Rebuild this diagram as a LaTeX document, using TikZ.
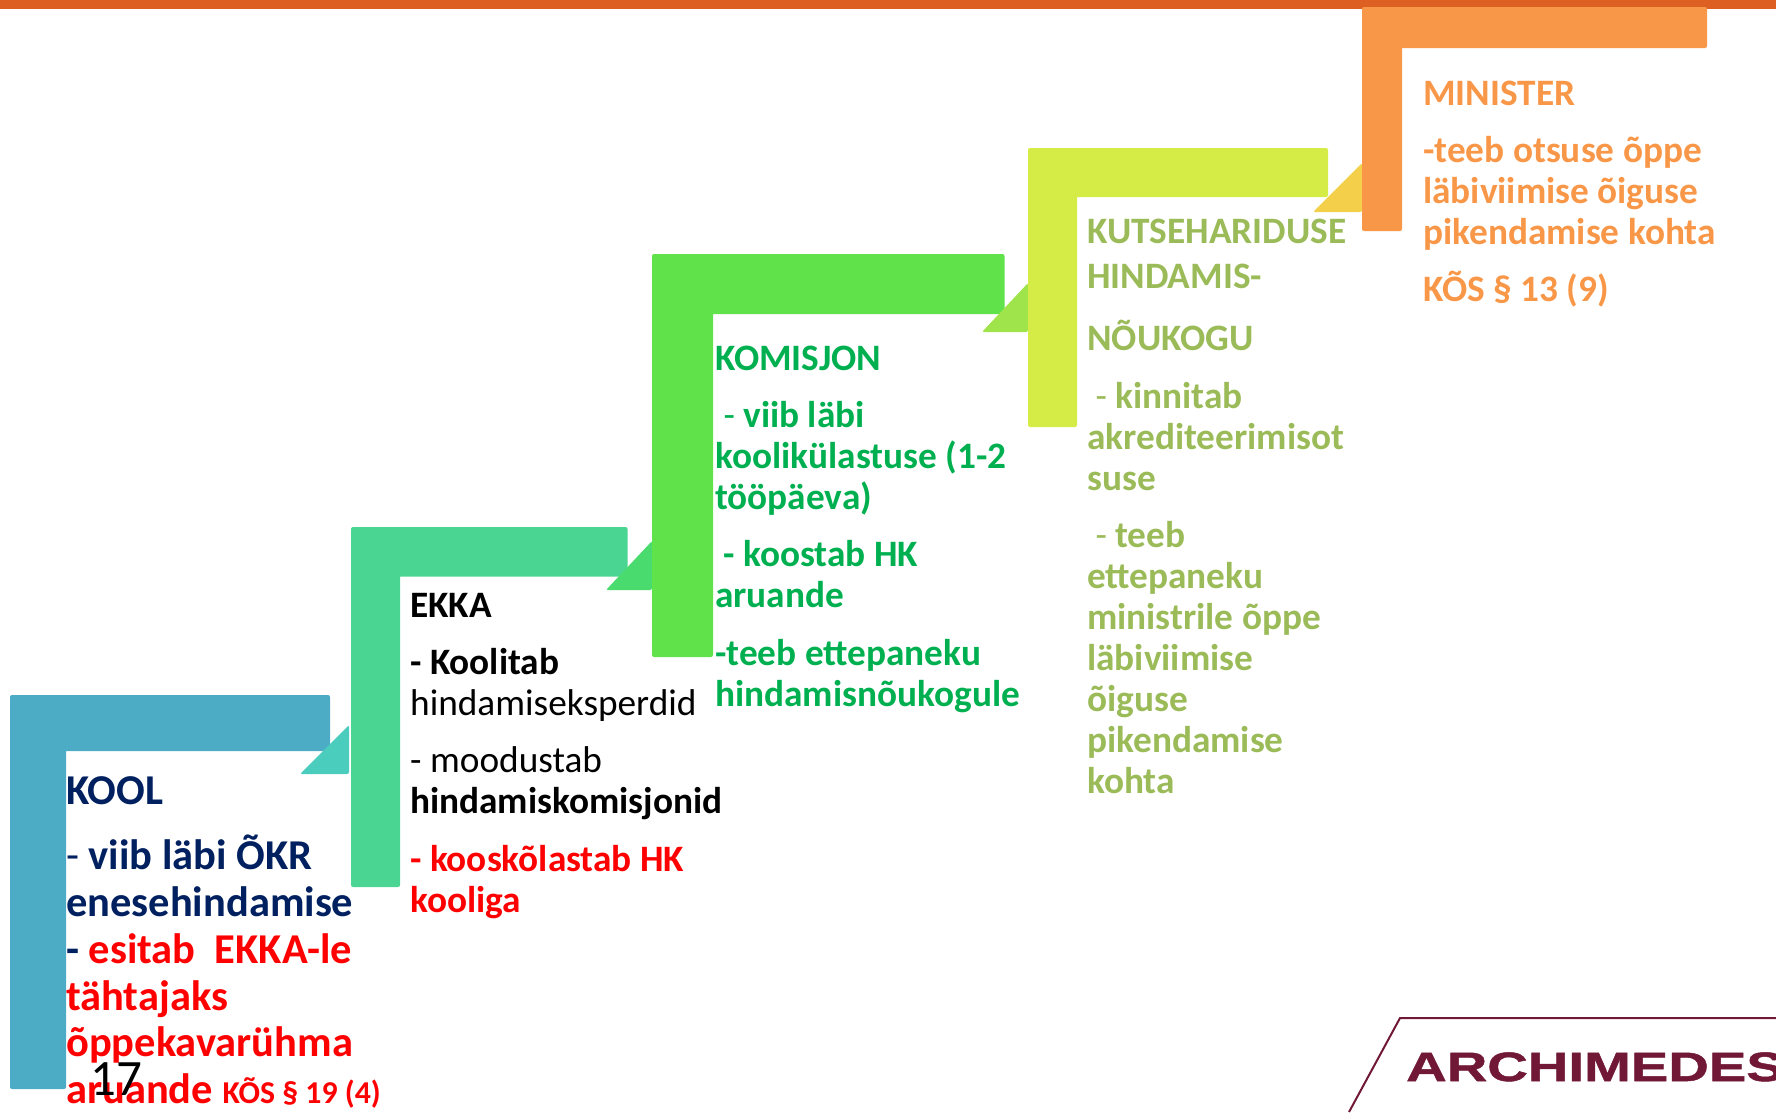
\documentclass[tikz,border=0pt]{standalone}
\usepackage{fontspec}
\setmainfont{Carlito}
\newfontfamily\logofont[FakeStretch=1.37,FakeBold=1.2]{Liberation Sans}
\definecolor{topbar}{HTML}{DD5F22}
\definecolor{koolc}{HTML}{4CACC6}
\definecolor{ekkac}{HTML}{4AD692}
\definecolor{komc}{HTML}{60E24A}
\definecolor{kutsec}{HTML}{D5EC46}
\definecolor{minc}{HTML}{F99749}
\definecolor{tria}{HTML}{4BCDBE}
\definecolor{trib}{HTML}{4ADB6F}
\definecolor{tric}{HTML}{9FE44A}
\definecolor{trid}{HTML}{F3CF4A}
\definecolor{navy}{HTML}{002060}
\definecolor{rred}{HTML}{FF0000}
\definecolor{kgreen}{HTML}{00B050}
\definecolor{olive}{HTML}{9BBB59}
\definecolor{wine}{HTML}{701836}
\tikzset{
  txt/.style={inner sep=0pt,anchor=north west,align=left},
  big/.style={txt,font=\fontsize{42.5}{46.9}\selectfont},
  mid/.style={txt,font=\fontsize{37.3}{41}\selectfont},
}
\begin{document}
\begin{tikzpicture}[x=1pt,y=-1pt]
% stair: colour, left, top, right, inner top, inner left, bottom
\def\stair#1#2#3#4#5#6#7{
\fill[#1,rounded corners=2pt] (#2,#3) -- (#4,#3) -- (#4,#5) [sharp corners] -- (#6,#5) [rounded corners=2pt] -- (#6,#7) -- (#2,#7) -- cycle;
}
\def\wedge#1#2#3#4#5{
\fill[#1,rounded corners=2pt] (#2,#5) -- (#3,#5) -- (#3,#4) -- cycle;
}
\useasboundingbox (0,0) rectangle (1776,1112);
\fill[topbar] (0,0) rectangle (1776,9);
\stair{koolc}{10}{695}{330}{751}{66}{1089}
\wedge{tria}{300}{349}{725}{774}
\stair{ekkac}{351}{527}{627.5}{576.5}{400}{887}
\wedge{trib}{606}{652}{541}{590}
\stair{komc}{652}{254}{1004.5}{314}{713}{657}
\wedge{tric}{982}{1028}{283}{332}
\stair{kutsec}{1028}{148}{1328}{197}{1077}{427}
\wedge{trid}{1313}{1362}{163}{212}
\stair{minc}{1362}{7}{1707}{48}{1402}{231}

% KOOL
\node[big,navy] (kool) at (66,771) {\strut\textbf{KOOL}};
\node[big,navy] (koolpunkt) at (66,834.5) {\strut - \textbf{viib läbi ÕKR}\\\textbf{enesehindamise}\\\textbf{-} \textcolor{rred}{\textbf{esitab\ \ EKKA-le}}\\\textcolor{rred}{\textbf{tähtajaks}}\\\textcolor{rred}{\textbf{õppekavarühma}}\\\textcolor{rred}{\textbf{aruande} {\fontsize{31.8}{46.9}\selectfont\textbf{KÕS § 19 (4)}}}};

% EKKA
\node[mid] (ekka) at (410,589) {\strut\textbf{EKKA}};
\node[mid] (ekkaa) at (410,646) {\strut\textbf{- Koolitab}\\hindamiseksperdid};
\node[mid] (ekkab) at (410,744) {\strut - moodustab\\\textbf{hindamiskomisjonid}};
\node[mid,rred] (ekkac) at (410,842.5) {\strut\textbf{- kooskõlastab HK}\\\textbf{kooliga}};

% KOMISJON
\node[mid,kgreen] (kom) at (715,342) {\strut\textbf{KOMISJON}};
\node[mid,kgreen] (koma) at (715,399) {\strut\ - \textbf{viib läbi}\\\textbf{koolikülastuse (1-2}\\\textbf{tööpäeva)}};
\node[mid,kgreen] (komb) at (715,538) {\strut\ \textbf{- koostab HK}\\\textbf{aruande}};
\node[mid,kgreen] (komc) at (715,636.5) {\strut\textbf{-teeb ettepaneku}\\\textbf{hindamisnõukogule}};

% KUTSEHARIDUSE HINDAMISNOUKOGU
\node[mid,olive] (kutse) at (1087,215) {\strut\textbf{KUTSEHARIDUSE}};
\node[mid,olive] (kutseb) at (1087,260) {\strut\textbf{HINDAMIS-}};
\node[mid,olive] (kutsec) at (1087,320) {\strut\textbf{NÕUKOGU}};
\node[mid,olive] (kutsed) at (1087,379.5) {\strut\ - \textbf{kinnitab}\\\textbf{akrediteerimisot}\\\textbf{suse}};
\node[mid,olive] (kutsee) at (1087,518.5) {\strut\ - \textbf{teeb}\\\textbf{ettepaneku}\\\textbf{ministrile õppe}\\\textbf{läbiviimise}\\\textbf{õiguse}\\\textbf{pikendamise}\\\textbf{kohta}};

% MINISTER
\node[mid,minc] (minister) at (1423,77) {\strut\textbf{MINISTER}};
\node[mid,minc] (ministera) at (1423,134) {\strut\textbf{-teeb otsuse õppe}\\\textbf{läbiviimise õiguse}\\\textbf{pikendamise kohta}};
\node[mid,minc] (ministerb) at (1423,271) {\strut\textbf{KÕS § 13 (9)}};

% page number and logo
\node[txt,anchor=base west,font=\fontsize{51}{54}\selectfont] (lehekylg) at (90,1095) {17};
\coordinate (logoa) at (1349,1112);
\coordinate (logob) at (1400,1018);
\coordinate (logoc) at (1776,1018);
\draw[wine,line width=2pt] (logoa) -- (logob) -- (logoc);
\begin{scope}
\clip (1340,1030) rectangle (1776,1112);
\node[txt,anchor=base west,wine,font=\logofont\bfseries\fontsize{41}{44}\selectfont] (logo) at (1406,1081) {ARCHIMEDES};
\end{scope}
\end{tikzpicture}
\end{document}
